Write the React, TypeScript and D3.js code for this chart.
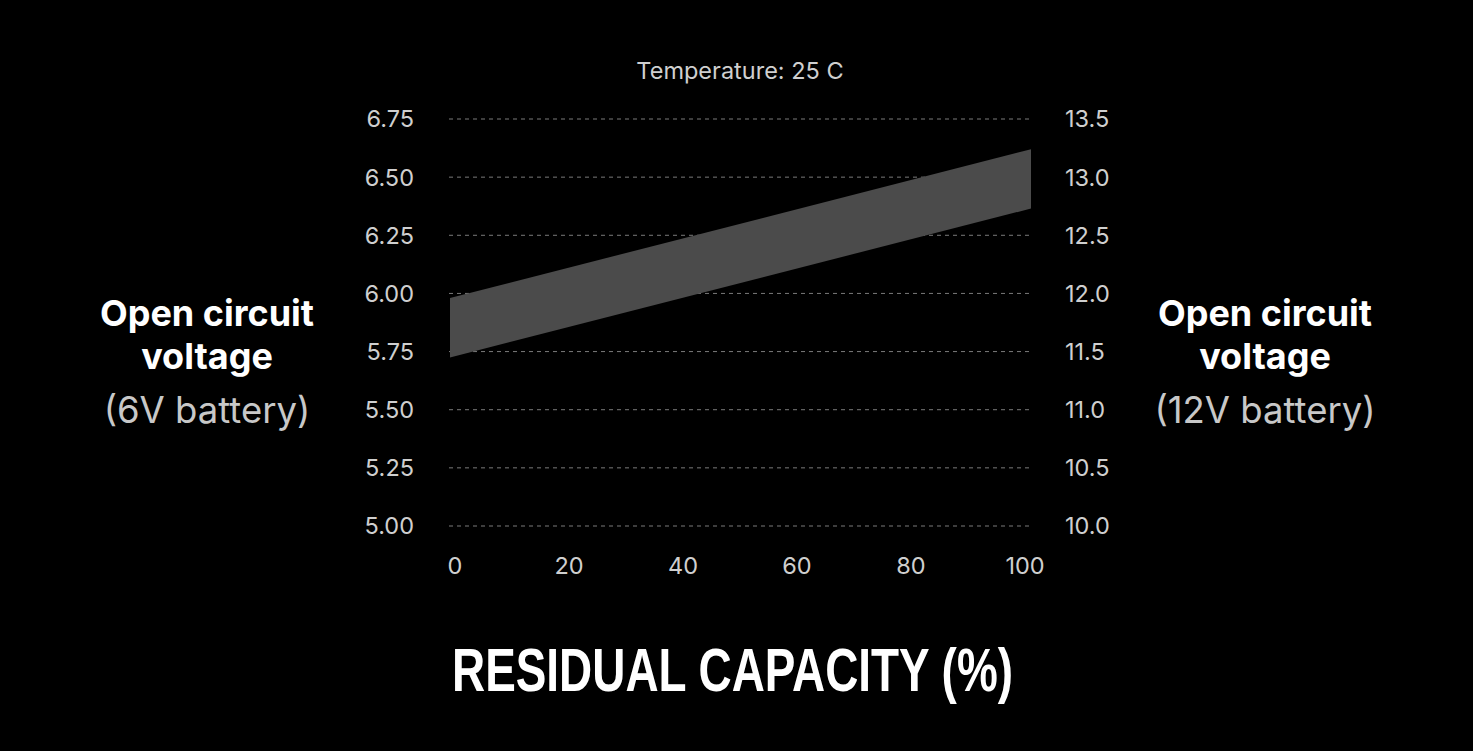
import { useEffect, useRef } from 'react';
import * as d3 from 'd3';

// residual capacity (%) at which the band is defined
const capacity = [0, 100];
// open circuit voltage band, 6V battery
const upperVolts = [5.98, 6.62];
const lowerVolts = [5.725, 6.365];

const xTicks = [0, 20, 40, 60, 80, 100];
const leftTicks = [5.0, 5.25, 5.5, 5.75, 6.0, 6.25, 6.5, 6.75];
const rightTicks = [10.0, 10.5, 11.0, 11.5, 12.0, 12.5, 13.0, 13.5];

const width = 1473;
const height = 751;
const font = 'Inter, "Noto Sans", sans-serif';

export default function App() {
  const svgRef = useRef<SVGSVGElement>(null);

  useEffect(() => {
    if (!svgRef.current) return;
    const svg = d3.select(svgRef.current);
    svg.selectAll('*').remove();

    svg.append('rect').attr('width', width).attr('height', height).attr('fill', '#000');

    const left = 450;
    const right = 1031;
    const top = 119;
    const bottom = 526;

    const x = d3.scaleLinear().domain([0, 100]).range([left, right]);
    const xLabel = x.copy().range([left + 5, right - 6]);
    const y = d3.scaleLinear().domain([5, 6.75]).range([bottom, top]);
    const y12 = d3.scaleLinear().domain([10, 13.5]).range([bottom, top]);

    // grid
    svg.append('g')
      .selectAll('line')
      .data(leftTicks)
      .join('line')
      .attr('x1', left - 1)
      .attr('x2', right)
      .attr('y1', d => y(d))
      .attr('y2', d => y(d))
      .attr('stroke', '#7a7a7a')
      .attr('stroke-width', 1)
      .attr('stroke-dasharray', '4,4');

    // band
    const band = capacity.map((c, i) => ({ c, hi: upperVolts[i], lo: lowerVolts[i] }));
    const area = d3.area<{ c: number; hi: number; lo: number }>()
      .x(d => x(d.c))
      .y0(d => y(d.lo))
      .y1(d => y(d.hi));
    svg.append('path').datum(band).attr('d', area).attr('fill', '#4b4b4b');

    // left axis labels
    svg.append('g')
      .selectAll('text')
      .data(leftTicks)
      .join('text')
      .attr('x', 414)
      .attr('y', d => y(d))
      .attr('dy', '0.36em')
      .attr('text-anchor', 'end')
      .style('font-family', font)
      .style('font-size', '23.5px')
      .style('fill', '#cfcfcf')
      .text(d => d3.format('.2f')(d));

    // right axis labels
    svg.append('g')
      .selectAll('text')
      .data(rightTicks)
      .join('text')
      .attr('x', 1065)
      .attr('y', d => y12(d))
      .attr('dy', '0.36em')
      .attr('text-anchor', 'start')
      .style('font-family', font)
      .style('font-size', '23.5px')
      .style('fill', '#cfcfcf')
      .text(d => d3.format('.1f')(d));

    // x axis labels
    svg.append('g')
      .selectAll('text')
      .data(xTicks)
      .join('text')
      .attr('x', d => xLabel(d))
      .attr('y', 574)
      .attr('text-anchor', 'middle')
      .style('font-family', font)
      .style('font-size', '23.5px')
      .style('fill', '#cfcfcf')
      .text(d => String(d));

    // title
    svg.append('text')
      .attr('x', 740)
      .attr('y', 79)
      .attr('text-anchor', 'middle')
      .style('font-family', font)
      .style('font-size', '23.5px')
      .style('fill', '#cfcfcf')
      .text('Temperature: 25 C');

    // side labels
    const sideLabel = (cx: number, sub: string) => {
      const g = svg.append('g').attr('text-anchor', 'middle').style('font-family', font);
      g.append('text').attr('x', cx).attr('y', 326)
        .style('font-size', '36px').style('font-weight', 700).style('fill', '#fff')
        .text('Open circuit');
      g.append('text').attr('x', cx).attr('y', 369)
        .style('font-size', '36px').style('font-weight', 700).style('fill', '#fff')
        .text('voltage');
      g.append('text').attr('x', cx).attr('y', 423)
        .style('font-size', '36.5px').style('font-weight', 400).style('fill', '#c8c8c8')
        .text(sub);
    };
    sideLabel(207, '(6V battery)');
    sideLabel(1265, '(12V battery)');

    // x axis title
    svg.append('text')
      .attr('x', 452)
      .attr('y', 691)
      .attr('textLength', 561)
      .attr('lengthAdjust', 'spacingAndGlyphs')
      .style('font-family', '"Liberation Sans Narrow", "Liberation Sans", Arial, sans-serif')
      .style('font-size', '61px')
      .style('font-weight', 700)
      .style('fill', '#fff')
      .text('RESIDUAL CAPACITY (%)');
  }, []);

  return (
    <svg
      ref={svgRef}
      width={width}
      height={height}
      style={{ display: 'block', position: 'absolute', left: 0, top: 0 }}
    />
  );
}
